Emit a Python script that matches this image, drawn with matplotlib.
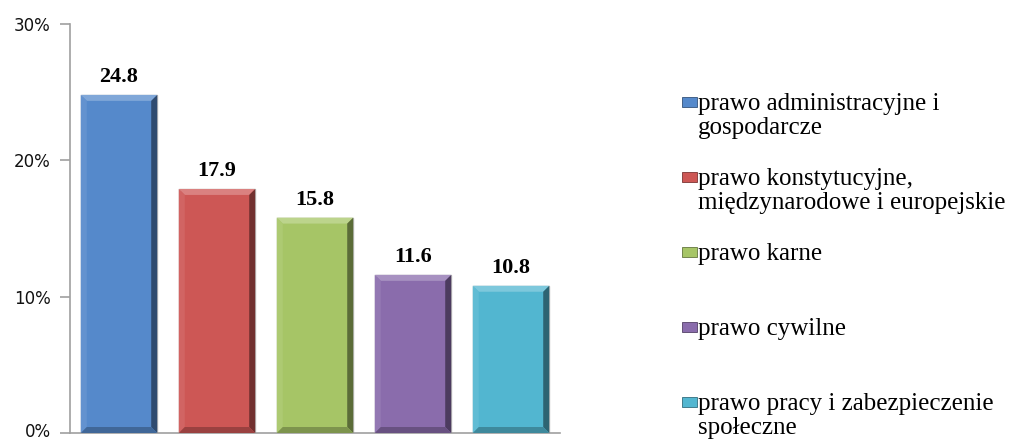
import matplotlib
matplotlib.use("Agg")
import matplotlib.pyplot as plt
from matplotlib.patches import Rectangle, Polygon
from matplotlib.ticker import FuncFormatter
from matplotlib.transforms import ScaledTranslation
import matplotlib.colors as mcolors

# data
categories = ["prawo administracyjne i\ngospodarcze",
              "prawo konstytucyjne,\nmiędzynarodowe i europejskie",
              "prawo karne",
              "prawo cywilne",
              "prawo pracy i zabezpieczenie\nspołeczne"]
values = [24.8, 17.9, 15.8, 11.6, 10.8]
colors = ["#5589CB", "#CD5755", "#A6C566", "#8A6CAC", "#52B6D0"]
yticks = [0, 10, 20, 30]

W, H = 1015, 441
fig = plt.figure(figsize=(W / 100, H / 100), dpi=100)
ax = fig.add_axes([70 / W, 8 / H, (560 - 70) / W, (433 - 24) / H])

bar_w = 0.78
# bevel size in data units (~6 px)
bx = 6 / 98.0
by = 6 * 30 / 410


def shade(c, f):
    r, g, b = mcolors.to_rgb(c)
    if f > 0:
        return (r + (1 - r) * f, g + (1 - g) * f, b + (1 - b) * f)
    return (r * (1 + f), g * (1 + f), b * (1 + f))


bars = ax.bar(range(len(values)), values, width=bar_w, color=colors,
              edgecolor="#BDBDBD", linewidth=1.0, zorder=2)

for rect, c, v in zip(bars, colors, values):
    x0 = rect.get_x()
    x1 = x0 + rect.get_width()
    y0, y1 = 0, rect.get_height()
    # top bevel (light)
    ax.add_patch(Polygon([(x0, y1), (x1, y1), (x1 - bx, y1 - by), (x0 + bx, y1 - by)],
                         closed=True, fc=shade(c, 0.25), ec="none", zorder=3))
    # left bevel
    ax.add_patch(Polygon([(x0, y0), (x0, y1), (x0 + bx, y1 - by), (x0 + bx, y0 + by)],
                         closed=True, fc=shade(c, 0.08), ec="none", zorder=3))
    # right bevel (dark)
    ax.add_patch(Polygon([(x1, y0), (x1, y1), (x1 - bx, y1 - by), (x1 - bx, y0 + by)],
                         closed=True, fc=shade(c, -0.45), ec="none", zorder=3))
    # bottom bevel
    ax.add_patch(Polygon([(x0, y0), (x1, y0), (x1 - bx, y0 + by), (x0 + bx, y0 + by)],
                         closed=True, fc=shade(c, -0.25), ec="none", zorder=3))
    ax.text(rect.get_x() + rect.get_width() / 2, v + 0.95, f"{v:.1f}",
            ha="center", va="baseline", fontsize=16, fontweight="bold",
            family="Liberation Serif", color="black")

ax.set_xlim(-0.5, len(values) - 0.5)
ax.set_ylim(0, 30)
ax.set_yticks(yticks)
ax.yaxis.set_major_formatter(FuncFormatter(lambda v, p: f"{v:.0f}%"))
ax.set_xticks([])
for s in ["top", "right"]:
    ax.spines[s].set_visible(False)
for s in ["left", "bottom"]:
    ax.spines[s].set_color("#A0A0A0")
    ax.spines[s].set_linewidth(1.2)
ax.tick_params(axis="y", direction="out", length=7, width=1.2, color="#A0A0A0",
               labelsize=12, labelcolor="#111111", pad=7)
for lbl in ax.get_yticklabels():
    lbl.set_family("DejaVu Sans")
# nudge the 0% label up a bit so it stays inside the canvas
zero_lbl = ax.get_yticklabels()[0]
zero_lbl.set_transform(zero_lbl.get_transform() +
                       ScaledTranslation(0, 3 / 100, fig.dpi_scale_trans))

# legend (drawn by hand: equal slot per entry, like the original)
leg_x = 682
for i, (lab, c) in enumerate(zip(categories, colors)):
    yc = 102 + i * 75
    fig.patches.append(Rectangle((leg_x / W, 1 - (yc + 5) / H), 15 / W, 10 / H,
                                 transform=fig.transFigure, fc=c, ec=shade(c, -0.4),
                                 lw=0.6, figure=fig))
    for j, line in enumerate(lab.split("\n")):
        fig.text((leg_x + 16) / W, 1 - (yc + 8 + j * 24) / H, line,
                 ha="left", va="baseline", fontsize=18,
                 family="Liberation Serif", color="black")

fig.savefig("out.png", dpi=100)
